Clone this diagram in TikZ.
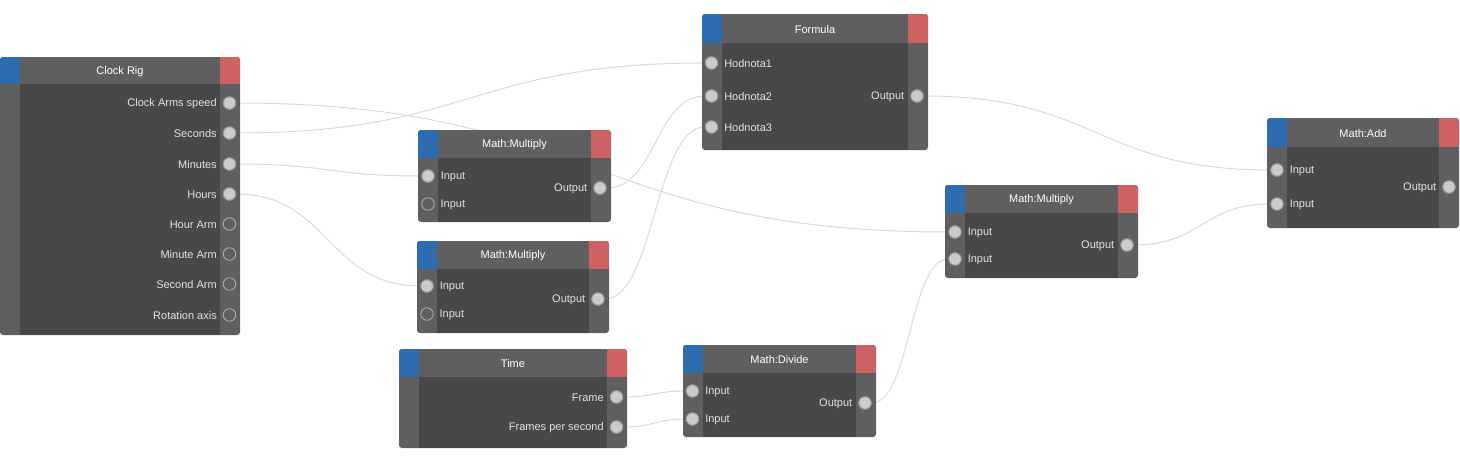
\documentclass[tikz,border=0pt]{standalone}
\usepackage{fontspec}
\setmainfont{Liberation Sans}
\usetikzlibrary{backgrounds}
\definecolor{sidec}{HTML}{5F5F61}
\definecolor{bodyc}{HTML}{48484A}
\definecolor{inblue}{HTML}{2E6CB0}
\definecolor{outred}{HTML}{CE6262}
\definecolor{sockc}{HTML}{CBCBCB}
\definecolor{ringc}{HTML}{9A9A9C}
\definecolor{freec}{HTML}{B0B0B2}
\definecolor{lblc}{HTML}{E2E2E2}
\definecolor{wirec}{HTML}{D9D9D9}

\begin{document}
\begin{tikzpicture}[x=1pt,y=-1pt,
  ttl/.style={text=white,font=\fontsize{11}{13}\selectfont,yshift=-1pt},
  lbl/.style={text=lblc,font=\fontsize{11}{13}\selectfont,yshift=-1pt,label distance=2.5pt},
  sock/.style={circle,draw=ringc,fill=sockc,line width=1pt,minimum size=12.5pt,inner sep=0pt},
  freesock/.style={circle,draw=freec,line width=0.8pt,minimum size=12.5pt,inner sep=0pt},
  wire/.style={draw=wirec,line width=1pt}]
  \useasboundingbox (0,0) rectangle (1460,463);

  % node boxes: left, top, right, bottom, header bottom
  \foreach \xa/\ya/\xb/\yb/\hb in {0/57/240/335/84, 418/130/611/222/158,
      417/241/609/333/269, 702/14/928/150/43, 399/349/627/448/377,
      683/345/876/437/373, 945/185/1138/278/213, 1267/118/1459/228/147} {
    \fill[sidec,rounded corners=3] (\xa,\ya) rectangle (\xb,\yb);
    \fill[bodyc] (\xa+20,\hb) rectangle (\xb-20,\yb);
    \begin{scope}
      \clip[rounded corners=3] (\xa,\ya) rectangle (\xb,\yb);
      \fill[inblue] (\xa,\ya) rectangle (\xa+20,\hb);
      \fill[outred] (\xb-20,\ya) rectangle (\xb,\hb);
    \end{scope}
  }

  % titles
  \node[ttl] (rig)   at (120,70.5)   {Clock Rig};
  \node[ttl] (mula)  at (514.5,144)  {Math:Multiply};
  \node[ttl] (mulb)  at (513,255)    {Math:Multiply};
  \node[ttl] (form)  at (815,28.5)   {Formula};
  \node[ttl] (time)  at (513,363)    {Time};
  \node[ttl] (div)   at (779.5,359)  {Math:Divide};
  \node[ttl] (mulc)  at (1041.5,199) {Math:Multiply};
  \node[ttl] (add)   at (1363,132.5) {Math:Add};

  % Clock Rig outputs
  \node[sock,label={[lbl]left:Clock Arms speed}] (rig-speed) at (229.5,103) {};
  \node[sock,label={[lbl]left:Seconds}] (rig-sec) at (229.5,133) {};
  \node[sock,label={[lbl]left:Minutes}] (rig-min) at (229.5,164) {};
  \node[sock,label={[lbl]left:Hours}] (rig-hour) at (229.5,194) {};
  \node[freesock,label={[lbl]left:Hour Arm}] (rig-harm) at (229.5,224) {};
  \node[freesock,label={[lbl]left:Minute Arm}] (rig-marm) at (229.5,254) {};
  \node[freesock,label={[lbl]left:Second Arm}] (rig-sarm) at (229.5,284) {};
  \node[freesock,label={[lbl]left:Rotation axis}] (rig-axis) at (229.5,315) {};

  % Math:Multiply (top)
  \node[sock,label={[lbl]right:Input}] (mula-a) at (428,176) {};
  \node[freesock,label={[lbl]right:Input}] (mula-b) at (428,204) {};
  \node[sock,label={[lbl]left:Output}] (mula-out) at (600,188) {};

  % Math:Multiply (bottom)
  \node[sock,label={[lbl]right:Input}] (mulb-a) at (427,286) {};
  \node[freesock,label={[lbl]right:Input}] (mulb-b) at (427,314) {};
  \node[sock,label={[lbl]left:Output}] (mulb-out) at (598,299) {};

  % Formula
  \node[sock,label={[lbl]right:Hodnota1}] (form-a) at (711.5,63) {};
  \node[sock,label={[lbl]right:Hodnota2}] (form-b) at (711.5,96) {};
  \node[sock,label={[lbl]right:Hodnota3}] (form-c) at (711.5,127) {};
  \node[sock,label={[lbl]left:Output}] (form-out) at (917,96) {};

  % Time
  \node[sock,label={[lbl]left:Frame}] (time-frame) at (616.5,397) {};
  \node[sock,label={[lbl]left:Frames per second}] (time-fps) at (616.5,427) {};

  % Math:Divide
  \node[sock,label={[lbl]right:Input}] (div-a) at (692.5,391) {};
  \node[sock,label={[lbl]right:Input}] (div-b) at (692.5,419) {};
  \node[sock,label={[lbl]left:Output}] (div-out) at (865,403) {};

  % Math:Multiply (right)
  \node[sock,label={[lbl]right:Input}] (mulc-a) at (955,232) {};
  \node[sock,label={[lbl]right:Input}] (mulc-b) at (955,259) {};
  \node[sock,label={[lbl]left:Output}] (mulc-out) at (1127,245) {};

  % Math:Add
  \node[sock,label={[lbl]right:Input}] (add-a) at (1277,170) {};
  \node[sock,label={[lbl]right:Input}] (add-b) at (1277,204) {};
  \node[sock,label={[lbl]left:Output}] (add-out) at (1449,187) {};

  % wires behind the boxes
  \begin{pgfonlayer}{background}
    \draw[wire] (rig-speed) .. controls +(363,0) and +(-363,0) .. (mulc-a);
    \draw[wire] (rig-sec) .. controls +(241,0) and +(-241,0) .. (form-a);
    \draw[wire] (rig-min) .. controls +(99,0) and +(-99,0) .. (mula-a);
    \draw[wire] (rig-hour) .. controls +(99,0) and +(-99,0) .. (mulb-a);
    \draw[wire] (mula-out) .. controls +(56,0) and +(-56,0) .. (form-b);
    \draw[wire] (mulb-out) .. controls +(56,0) and +(-56,0) .. (form-c);
    \draw[wire] (form-out) .. controls +(180,0) and +(-180,0) .. (add-a);
    \draw[wire] (mulc-out) .. controls +(75,0) and +(-75,0) .. (add-b);
    \draw[wire] (div-out) .. controls +(45,0) and +(-45,0) .. (mulc-b);
    \draw[wire] (time-frame) .. controls +(37,0) and +(-37,0) .. (div-a);
    \draw[wire] (time-fps) .. controls +(37,0) and +(-37,0) .. (div-b);
  \end{pgfonlayer}
\end{tikzpicture}
\end{document}
